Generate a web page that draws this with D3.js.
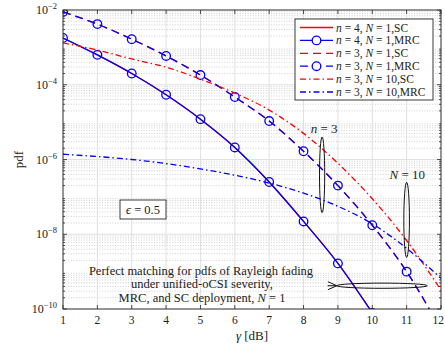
<!DOCTYPE html>
<html>
<head>
<meta charset="utf-8">
<script src="https://cdn.jsdelivr.net/npm/d3@7"></script>
<style>
  body { margin: 0; background: #fff; }
  svg { display: block; }
  text { font-family: "Liberation Serif", "Times New Roman", serif; fill: #222; }
</style>
</head>
<body>
<div class="chart"></div>
<script>
// gamma in dB
const gammaDb = [1, 2, 3, 4, 5, 6, 7, 8, 9, 10, 11, 12];

// pdf values
const n4N1MRC = [1.78e-3, 6.3e-4, 2.0e-4, 5.4e-5, 1.2e-5, 2.1e-6, 2.5e-7, 2.2e-8, 1.66e-9, 7.9e-11];
const n4N1SC  = [1.78e-3, 6.3e-4, 2.0e-4, 5.4e-5, 1.2e-5, 2.1e-6, 2.5e-7, 2.2e-8, 1.66e-9, 7.9e-11];
const n3N1MRC = [8.9e-3, 4.2e-3, 1.66e-3, 5.9e-4, 1.82e-4, 4.7e-5, 1.07e-5, 1.66e-6, 2.0e-7, 1.74e-8, 1.0e-9, 2.8e-11];
const n3N1SC  = [8.9e-3, 4.2e-3, 1.66e-3, 5.9e-4, 1.82e-4, 4.7e-5, 1.07e-5, 1.66e-6, 2.0e-7, 1.74e-8, 1.0e-9, 2.8e-11];
const n3N10SC = [1.32e-3, 8.5e-4, 4.9e-4, 2.95e-4, 1.41e-4, 6.0e-5, 2.1e-5, 5.0e-6, 7.9e-7, 8.9e-8, 6.8e-9, 3.2e-10];
const n3N10MRC = [1.38e-6, 1.2e-6, 1.0e-6, 7.8e-7, 5.6e-7, 3.8e-7, 2.35e-7, 1.26e-7, 5.6e-8, 1.9e-8, 4.2e-9, 6.6e-10];

const xTicks = [1, 2, 3, 4, 5, 6, 7, 8, 9, 10, 11, 12];
const yTicks = [1e-10, 1e-8, 1e-6, 1e-4, 1e-2];
const yExp = ["−10", "−8", "−6", "−4", "−2"];

const series = [
  {n: "4", N: "1", tag: "SC",  vals: n4N1SC,  color: "#ff0000", dash: null, mark: false},
  {n: "4", N: "1", tag: "MRC", vals: n4N1MRC, color: "#0000ff", dash: null, mark: true},
  {n: "3", N: "1", tag: "SC",  vals: n3N1SC,  color: "#ff0000", dash: "8,5", mark: false},
  {n: "3", N: "1", tag: "MRC", vals: n3N1MRC, color: "#0000ff", dash: "8,5", mark: true},
  {n: "3", N: "10", tag: "SC",  vals: n3N10SC,  color: "#ff0000", dash: "6,3,1.5,3", mark: false},
  {n: "3", N: "10", tag: "MRC", vals: n3N10MRC, color: "#0000ff", dash: "6,3,1.5,3", mark: false}
];

const W = 445, H = 349;
const margin = {top: 10, right: 4, bottom: 40, left: 63};
const width = W - margin.left - margin.right,
      height = H - margin.top - margin.bottom;

const svg = d3.select(".chart").append("svg")
  .attr("width", W).attr("height", H);
const g = svg.append("g")
  .attr("transform", `translate(${margin.left},${margin.top})`);

const x = d3.scaleLinear().domain([1, 12]).range([0, width]);
const y = d3.scaleLog().domain([1e-10, 1e-2]).range([height, 0]);

// minor y grid (dotted)
const minor = [];
for (let e = -10; e < -2; e++) for (let k = 2; k <= 9; k++) minor.push(k * Math.pow(10, e));
g.append("g").selectAll("line").data(minor).enter().append("line")
  .attr("x1", 0).attr("x2", width)
  .attr("y1", d => y(d)).attr("y2", d => y(d))
  .attr("stroke", "#c4c4c4").attr("stroke-width", 0.8).attr("stroke-dasharray", "1,1.6");

// major grid
g.append("g").selectAll("line").data(xTicks).enter().append("line")
  .attr("x1", d => x(d)).attr("x2", d => x(d)).attr("y1", 0).attr("y2", height)
  .attr("stroke", "#e0e0e0").attr("stroke-width", 1);
g.append("g").selectAll("line").data(yTicks).enter().append("line")
  .attr("y1", d => y(d)).attr("y2", d => y(d)).attr("x1", 0).attr("x2", width)
  .attr("stroke", "#e0e0e0").attr("stroke-width", 1);

// clip
svg.append("clipPath").attr("id", "clip").append("rect")
  .attr("width", width).attr("height", height);
const plot = g.append("g").attr("clip-path", "url(#clip)");

const line = d3.line()
  .x((d, i) => x(gammaDb[i]))
  .y(d => y(d))
  .curve(d3.curveMonotoneX);

series.forEach(s => {
  plot.append("path")
    .attr("d", line(s.vals))
    .attr("fill", "none")
    .attr("stroke", s.color)
    .attr("stroke-width", 1.3)
    .attr("stroke-dasharray", s.dash);
  if (s.mark) {
    plot.append("g").selectAll("circle").data(s.vals).enter().append("circle")
      .attr("cx", (d, i) => x(gammaDb[i]))
      .attr("cy", d => y(d))
      .attr("r", 4.3)
      .attr("fill", "none")
      .attr("stroke", s.color)
      .attr("stroke-width", 1.3);
  }
});

// axes: ticks inside on all four sides
const xMaj = 4, yMin = 2;
const tk = g.append("g").attr("stroke", "#262626").attr("stroke-width", 0.8);
xTicks.forEach(t => {
  tk.append("line").attr("x1", x(t)).attr("x2", x(t)).attr("y1", height).attr("y2", height - xMaj);
  tk.append("line").attr("x1", x(t)).attr("x2", x(t)).attr("y1", 0).attr("y2", xMaj);
});
yTicks.forEach(t => {
  tk.append("line").attr("x1", 0).attr("x2", xMaj).attr("y1", y(t)).attr("y2", y(t));
  tk.append("line").attr("x1", width).attr("x2", width - xMaj).attr("y1", y(t)).attr("y2", y(t));
});
minor.forEach(t => {
  tk.append("line").attr("x1", 0).attr("x2", yMin).attr("y1", y(t)).attr("y2", y(t));
  tk.append("line").attr("x1", width).attr("x2", width - yMin).attr("y1", y(t)).attr("y2", y(t));
});
g.append("rect").attr("width", width).attr("height", height)
  .attr("fill", "none").attr("stroke", "#262626").attr("stroke-width", 0.9);

// tick labels
g.append("g").selectAll("text").data(xTicks).enter().append("text")
  .attr("x", d => x(d)).attr("y", height + 15)
  .attr("text-anchor", d => d === 12 ? "end" : "middle").attr("dx", d => d === 12 ? 3 : 0)
  .style("font-size", "11.5px")
  .text(d => d);
const yl = g.append("g").selectAll("text").data(yTicks).enter().append("text")
  .attr("x", -6).attr("y", d => y(d) + 4)
  .attr("text-anchor", "end").style("font-size", "12px");
yl.append("tspan").text("10");
yl.append("tspan").attr("dy", -5).style("font-size", "8.5px").text((d, i) => yExp[i]);

// axis labels
g.append("text")
  .attr("x", x(6.5)).attr("y", height + 31)
  .attr("text-anchor", "middle").style("font-size", "13px")
  .html('<tspan font-style="italic">γ</tspan> [dB]');
g.append("text")
  .attr("transform", `translate(${-40},${height / 2}) rotate(-90)`)
  .attr("text-anchor", "middle").style("font-size", "13px")
  .text("pdf");

// legend
const lg = svg.append("g").attr("transform", "translate(295,19)");
lg.append("rect").attr("width", 138).attr("height", 81)
  .attr("fill", "#fff").attr("stroke", "#262626").attr("stroke-width", 0.9);
series.forEach((s, i) => {
  const ry = 8.5 + i * 12.9;
  lg.append("line").attr("x1", 5).attr("x2", 38).attr("y1", ry).attr("y2", ry)
    .attr("stroke", s.color).attr("stroke-width", 1.3).attr("stroke-dasharray", s.dash);
  if (s.mark) lg.append("circle").attr("cx", 21.5).attr("cy", ry).attr("r", 4.3)
    .attr("fill", "#fff").attr("stroke", s.color).attr("stroke-width", 1.3);
  const t = lg.append("text").attr("x", 41).attr("y", ry + 4).style("font-size", "11.5px");
  t.append("tspan").attr("font-style", "italic").text("n");
  t.append("tspan").text(` = ${s.n}, `);
  t.append("tspan").attr("font-style", "italic").text("N");
  t.append("tspan").text(` = ${s.N},${s.tag}`);
});

// epsilon box
g.append("rect").attr("x", 120 - margin.left).attr("y", 200 - margin.top)
  .attr("width", 46).attr("height", 19)
  .attr("fill", "#fff").attr("stroke", "#262626").attr("stroke-width", 0.9);
g.append("text").attr("x", 143 - margin.left).attr("y", 214 - margin.top)
  .attr("text-anchor", "middle").style("font-size", "12.5px")
  .html('<tspan font-style="italic">ϵ</tspan> = 0.5');

// annotations
const ann = g.append("g").attr("fill", "none").attr("stroke", "#111").attr("stroke-width", 1);
function ell(xv, y1, y2, rx) {
  ann.append("ellipse").attr("cx", x(xv)).attr("cy", (y(y1) + y(y2)) / 2)
    .attr("rx", rx).attr("ry", Math.abs(y(y2) - y(y1)) / 2);
}
ell(8.54, 4e-6, 3.8e-8, 2.6);
ell(11.0, 2.45e-7, 2.4e-9, 2.8);
ann.append("ellipse").attr("cx", (x(8.97) + x(11.6)) / 2).attr("cy", y(4.2e-10))
  .attr("rx", (x(11.6) - x(8.97)) / 2).attr("ry", 2.6);
ann.append("line").attr("x1", x(8.7)).attr("x2", x(8.97)).attr("y1", y(4.2e-10)).attr("y2", y(4.2e-10));
ann.append("path").attr("d", `M${x(8.97) - 9},${y(4.2e-10) - 4}L${x(8.97)},${y(4.2e-10)}L${x(8.97) - 9},${y(4.2e-10) + 4}`);

g.append("text").attr("x", x(8.6)).attr("y", y(5.2e-6))
  .attr("text-anchor", "middle").style("font-size", "13px")
  .html('<tspan font-style="italic">n</tspan> = 3');
g.append("text").attr("x", x(11.02)).attr("y", y(3.0e-7))
  .attr("text-anchor", "middle").style("font-size", "13px")
  .html('<tspan font-style="italic">N</tspan> = 10');

const note = g.append("text").attr("text-anchor", "middle").style("font-size", "12.5px");
note.append("tspan").attr("x", 201 - margin.left).attr("y", 275 - margin.top)
  .text("Perfect matching for pdfs of Rayleigh fading");
note.append("tspan").attr("x", 202 - margin.left).attr("y", 288 - margin.top)
  .text("under unified-oCSI severity,");
note.append("tspan").attr("x", 202 - margin.left).attr("y", 302 - margin.top)
  .text("MRC, and SC deployment, ");
note.append("tspan").attr("font-style", "italic").text("N");
note.append("tspan").text(" = 1");
</script>
</body>
</html>
